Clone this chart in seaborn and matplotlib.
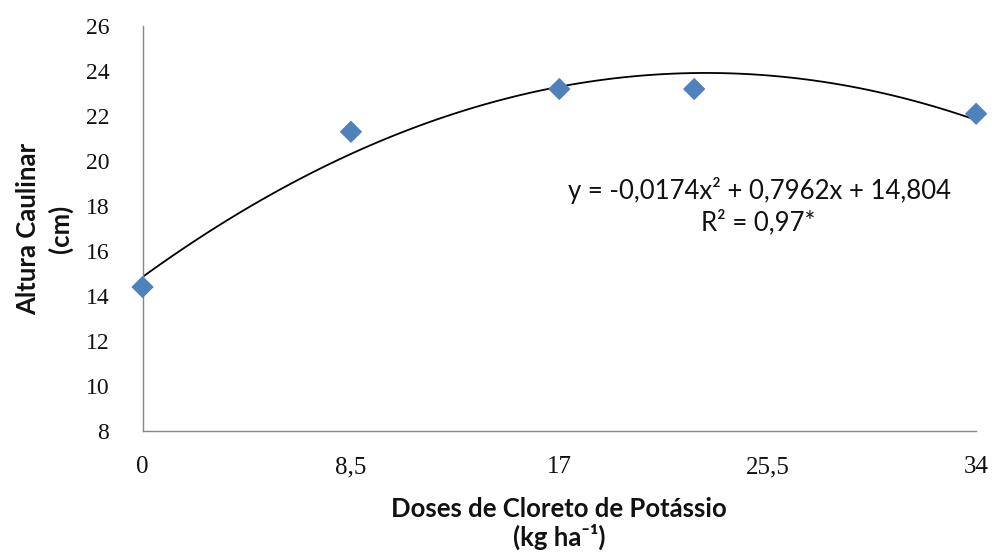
import matplotlib
matplotlib.use("Agg")
import matplotlib.pyplot as plt
import seaborn as sns
import pandas as pd

# Data
doses = [0, 8.5, 17, 22.5, 34]
altura = [14.4, 21.3, 23.2, 23.2, 22.1]
x_ticks = [0, 8.5, 17, 25.5, 34]
x_tick_labels = ["0", "8,5", "17", "25,5", "34"]
y_ticks = [8, 10, 12, 14, 16, 18, 20, 22, 24, 26]
equation_text = "y = -0,0174x² + 0,7962x + 14,804"
r2_text = "R² = 0,97*"

df = pd.DataFrame({"dose": doses, "altura": altura})

sns.set_theme(style="white")
plt.rcParams["font.family"] = ["Lato", "DejaVu Sans"]
plt.rcParams["text.color"] = "#111111"
plt.rcParams["axes.labelcolor"] = "#111111"
plt.rcParams["xtick.color"] = "#111111"
plt.rcParams["ytick.color"] = "#111111"

fig = plt.figure(figsize=(9.92, 5.54), dpi=100)
ax = fig.add_axes([0.1437, 0.222, 0.8403, 0.731])

sns.regplot(data=df, x="dose", y="altura", order=2, ci=None, scatter=False,
            truncate=True, line_kws={"color": "black", "lw": 1.3}, ax=ax)
sns.scatterplot(data=df, x="dose", y="altura", marker="D", s=130,
                color="#4F81BD", edgecolor="none", ax=ax, zorder=3,
                clip_on=False)

ax.set_xlim(0, 34)
ax.set_ylim(8, 26)
ax.set_xticks(x_ticks)
ax.set_xticklabels(x_tick_labels, family=["Liberation Serif"], fontsize=18)
ax.set_yticks(y_ticks)
ax.set_yticklabels([str(v) for v in y_ticks], family=["Liberation Serif"], fontsize=17)
ax.tick_params(axis="x", length=0, pad=18)
ax.tick_params(axis="y", length=0, pad=24)

for s in ["top", "right"]:
    ax.spines[s].set_visible(False)
for s in ["left", "bottom"]:
    ax.spines[s].set_color("#868686")
    ax.spines[s].set_linewidth(1.0)

ax.set_xlabel("Doses de Cloreto de Potássio\n(kg ha⁻¹)", fontsize=18.5,
              fontweight="bold", linespacing=1.15,
              family=["Lato", "DejaVu Sans"])
ax.xaxis.set_label_coords(0.5, -0.162)
ax.set_ylabel("Altura Caulinar\n(cm)", fontsize=18.5, fontweight="bold",
              linespacing=1.35, family=["Lato", "DejaVu Sans"])
ax.yaxis.set_label_coords(-0.084, 0.5)

ax.text(0.74, 0.595, equation_text, transform=ax.transAxes, ha="center",
        va="center", fontsize=18.5)
ax.text(0.738, 0.516, r2_text, transform=ax.transAxes, ha="center",
        va="center", fontsize=18.5)

fig.savefig("out.png", dpi=100)
